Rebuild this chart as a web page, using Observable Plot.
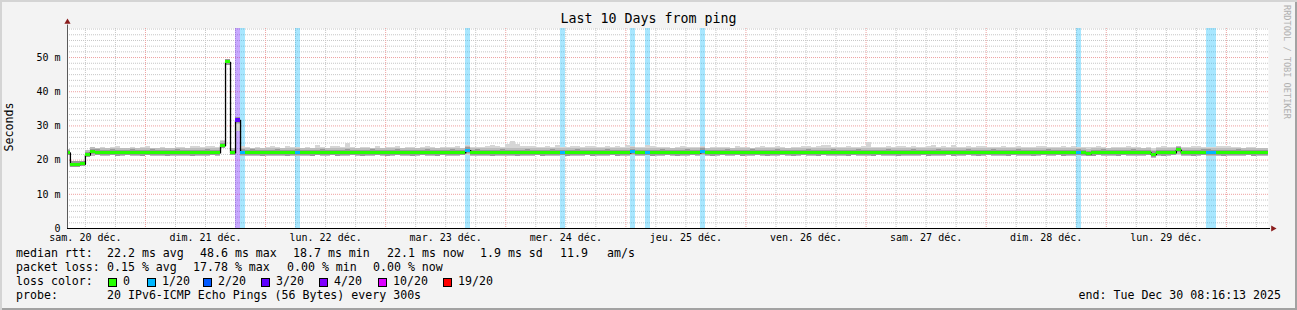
<!DOCTYPE html>
<html><head><meta charset="utf-8">
<script src="https://cdn.jsdelivr.net/npm/d3@7"></script>
<script src="https://cdn.jsdelivr.net/npm/@observablehq/plot@0.6"></script>
<style>
html,body{margin:0;padding:0;background:#f3f3f3;}
#wrap{position:relative;width:1297px;height:310px;background:#f3f3f3;box-shadow:inset 2px 2px 0 #d4d4d4, inset -2px -2px 0 #a2a2a2;overflow:hidden;font-family:"DejaVu Sans Mono",monospace;color:#000;}
#wrap svg{position:absolute;left:0;top:0;}
.t{position:absolute;white-space:pre;line-height:1;}
.box{position:absolute;width:7px;height:7px;border:1px solid #000;}
</style></head><body><div id="wrap"></div>
<script>
// ---- data (hours since sam. 20 déc. 00:00, hourly bins) ----
const firstHour = 8;
const xDomain = [8.42, 248.42];
const dayTicks = [12, 36, 60, 84, 108, 132, 156, 180, 204, 228];
const dayLabels = ["sam. 20 déc.", "dim. 21 déc.", "lun. 22 déc.", "mar. 23 déc.", "mer. 24 déc.",
                   "jeu. 25 déc.", "ven. 26 déc.", "sam. 27 déc.", "dim. 28 déc.", "lun. 29 déc."];
const yTicks = [0, 10, 20, 30, 40, 50];
const yTickLabels = ["0", "10 m", "20 m", "30 m", "40 m", "50 m"];

// median rtt (ms), one value per hour starting at hour 8
const median = [
  22.1,18.7,18.7,18.8,21.5,22.3,22.2,22.1,22.1,22.2,22.0,22.1,
  22.1,22.2,22.1,22.0,22.1,22.2,22.1,22.1,22.0,22.1,22.2,22.1,
  22.1,22.0,22.1,22.1,22.2,22.1,22.1,24.2,48.6,22.1,31.6,22.2,
  22.1,22.2,22.1,22.0,22.1,22.1,22.2,22.1,22.0,22.1,22.2,22.1,
  22.1,22.0,22.1,22.2,22.1,22.1,22.0,22.1,22.2,22.1,22.1,22.0,
  22.1,22.2,22.1,22.1,22.0,22.1,22.2,22.1,22.1,22.0,22.1,22.1,
  22.2,22.1,22.0,22.1,22.1,22.2,22.1,22.1,22.8,22.1,22.2,22.1,
  22.1,22.0,22.1,22.2,22.1,22.1,22.0,22.1,22.2,22.1,22.1,22.0,
  22.1,22.2,22.1,22.1,22.0,22.1,22.2,22.1,22.1,22.0,22.1,22.1,
  22.2,22.1,22.0,22.1,22.1,22.3,22.1,22.1,22.1,22.0,22.1,22.2,
  22.1,22.1,22.0,22.1,22.2,22.1,22.1,22.5,22.1,22.0,22.1,22.1,
  22.2,22.1,22.1,22.0,22.1,22.2,22.1,22.1,22.0,22.1,22.2,22.1,
  22.1,22.0,22.1,22.1,22.2,22.1,22.0,22.1,22.1,22.2,22.1,22.1,
  22.0,22.1,22.2,22.1,22.1,22.0,22.1,22.1,22.2,22.1,22.0,22.1,
  22.1,22.2,22.1,22.1,22.0,22.1,22.2,22.1,22.1,22.0,22.1,22.1,
  22.2,22.1,22.0,22.1,22.1,22.2,22.1,22.1,22.0,22.1,22.2,22.1,
  22.1,22.0,22.1,22.1,22.2,22.1,22.1,22.0,22.1,22.1,22.2,22.1,
  21.8,22.0,22.1,22.2,22.1,22.1,22.0,22.1,22.1,22.2,22.1,22.1,
  22.1,21.6,22.1,22.0,22.1,22.1,22.9,22.1,22.1,22.0,22.1,22.2,
  22.2,22.1,22.1,22.0,22.1,22.1,22.2,22.1,22.1,22.0,22.1,22.1,
  22.1
];
// smoke: highest and lowest ping of each hour (ms)
const smokeHi = [
  23.0,19.6,19.5,19.7,22.8,23.6,23.4,23.8,23.5,23.6,23.9,23.4,
  23.5,23.8,23.4,23.6,23.9,23.5,23.4,23.7,23.5,23.4,23.8,23.6,
  23.5,23.9,24.0,23.6,23.9,24.1,23.7,25.7,49.4,23.5,32.6,23.9,
  23.6,23.4,23.8,23.5,23.7,24.0,23.6,23.5,23.9,23.6,23.8,23.5,
  23.7,23.4,24.3,23.6,23.5,23.9,24.0,23.6,24.9,23.7,23.5,23.8,
  23.6,23.4,23.9,23.5,23.7,23.6,24.0,23.5,23.8,23.6,23.4,23.7,
  23.9,23.6,23.5,23.8,23.6,23.7,23.9,23.5,24.4,23.6,23.8,23.7,
  23.9,24.2,24.1,23.8,24.6,25.4,24.6,24.1,23.9,24.0,23.7,23.8,
  23.9,23.6,24.2,23.8,23.7,24.0,24.1,23.8,23.9,24.0,23.7,23.8,
  23.9,23.7,24.0,23.8,24.3,24.1,23.8,23.7,24.3,23.9,23.6,23.8,
  23.7,23.5,23.8,23.9,23.6,23.7,23.6,23.9,23.5,23.6,23.7,23.8,
  23.6,23.5,24.0,23.8,23.6,23.5,23.7,23.9,23.6,23.8,24.0,23.7,
  23.5,23.6,23.8,23.9,24.0,23.7,23.9,24.3,24.2,23.8,23.7,23.6,
  24.0,23.7,23.6,23.9,25.2,23.7,23.6,23.8,24.0,23.7,24.1,23.9,
  23.8,24.0,23.7,23.6,23.9,24.2,23.8,24.1,23.7,24.4,23.6,23.8,
  24.0,23.7,23.9,24.1,23.6,23.8,23.7,24.0,23.8,23.6,23.9,23.7,
  23.8,23.6,23.9,24.1,23.7,23.8,23.6,24.0,23.7,23.9,23.6,23.8,
  23.7,23.6,23.9,23.8,23.5,23.7,23.6,23.8,23.9,23.6,23.7,23.5,
  23.6,23.4,23.8,23.9,23.7,23.8,24.0,23.6,23.7,23.9,24.0,23.6,
  23.8,23.7,23.9,24.1,23.9,23.6,23.8,23.5,23.7,23.6,23.5,23.5,
  23.5
];
const smokeLo = [
  21.3,17.9,17.8,18.0,20.9,21.2,21.3,21.0,21.2,21.3,21.1,21.2,
  21.3,21.1,21.2,21.0,21.3,21.2,21.1,21.2,21.3,21.0,21.2,21.1,
  21.2,21.3,21.1,21.2,21.0,21.3,21.2,23.6,48.0,21.3,28.5,21.2,
  21.1,21.2,21.0,21.3,21.2,21.1,21.0,21.2,21.3,21.1,21.2,21.0,
  21.2,21.1,21.3,21.0,21.2,21.3,21.1,21.2,21.0,21.3,21.1,21.2,
  21.0,21.2,21.3,21.1,21.2,21.0,21.3,21.2,21.1,21.0,21.2,21.3,
  21.1,21.2,21.0,21.3,21.1,21.2,21.0,21.3,21.4,21.2,21.1,21.0,
  21.2,21.3,21.1,21.0,21.2,21.1,21.3,21.2,21.0,21.1,21.3,21.2,
  21.1,21.0,21.2,21.3,21.1,21.2,21.0,21.1,21.3,21.2,21.0,21.1,
  21.2,21.3,21.1,21.0,21.2,21.4,21.1,21.2,21.3,21.0,21.2,21.1,
  21.3,21.2,21.1,21.0,21.2,21.3,21.1,21.3,21.2,21.0,21.1,21.3,
  21.2,21.1,21.3,21.0,21.2,21.1,21.3,21.2,21.0,21.1,21.2,21.3,
  21.1,21.0,21.2,21.3,21.1,21.2,21.0,21.3,21.1,21.2,21.0,21.1,
  21.2,21.3,21.1,21.0,21.2,21.1,21.3,21.2,21.0,21.1,21.3,21.2,
  21.0,21.2,21.1,21.3,21.2,21.0,21.1,21.2,21.3,21.1,21.0,21.2,
  21.3,21.1,21.2,21.0,21.3,21.2,21.1,21.0,21.2,21.3,21.1,21.2,
  21.1,21.2,21.0,21.3,21.1,21.2,21.3,21.0,21.2,21.1,21.3,21.2,
  21.0,21.2,21.3,21.1,21.2,21.0,21.1,21.3,21.2,21.1,21.0,21.2,
  21.3,20.6,21.2,21.0,21.1,21.3,21.4,21.2,21.1,21.0,21.2,21.3,
  21.1,21.2,21.0,21.3,21.2,21.1,21.0,21.2,21.3,21.1,21.2,21.1,
  21.2
];
// hours with packet loss and number of lost pings (of 20)
const lossHours = [42, 43, 54, 88, 107, 121, 124, 135, 210, 236, 237];
const lossCount = [3, 1, 1, 1, 1, 1, 1, 1, 1, 1, 1];
// loss colour legend
const lossLevels = [0, 1, 2, 3, 4, 10, 19];
const lossLabels = ["0", "1/20", "2/20", "3/20", "4/20", "10/20", "19/20"];
const lossColors = ["#26ff00", "#00b8ff", "#0059ff", "#5e00ff", "#7e00ff", "#dd00ff", "#ff0000"];

// ---- build ----
const colorOf = c => { let k = 0; lossLevels.forEach((l, i) => { if (c >= l) k = i; }); return lossColors[k]; };
const lossBy = new Map(lossHours.map((h, i) => [h, lossCount[i]]));
const rows = median.map((m, i) => {
  const h = firstHour + i;
  return {h, h2: h + 1, med: m, hi: smokeHi[i], lo: smokeLo[i], color: colorOf(lossBy.get(h) || 0)};
});
const lossRows = lossHours.map((h, i) => ({h, h2: h + 1, color: colorOf(lossCount[i])}));

const yTop = 58.5;
const minorY = d3.range(1, 36).filter(k => k % 6 !== 0).map(k => k * 10 / 6);
const majorY = yTicks.filter(v => v > 0);
const majorX = d3.range(24, 248, 24);
const minorX = d3.range(12, 248, 6).filter(h => h % 24 !== 0);
const gridGray = "#c6c6c6", gridRed = "#eea0a0";

const chart = Plot.plot({
  width: 1297, height: 245,
  marginLeft: 67, marginRight: 29, marginTop: 28, marginBottom: 17,
  style: {background: "transparent", fontFamily: "'DejaVu Sans Mono', monospace", fontSize: "10px", color: "#000", overflow: "visible"},
  x: {domain: xDomain, ticks: dayTicks, tickFormat: d => dayLabels[dayTicks.indexOf(d)], tickSize: 0, tickPadding: 5, label: null},
  y: {domain: [0, yTop], ticks: yTicks, tickFormat: d => yTickLabels[yTicks.indexOf(d)], tickSize: 0, tickPadding: 7, label: null},
  color: {type: "identity"},
  marks: [
    Plot.frame({fill: "white"}),
    Plot.ruleY(minorY, {stroke: gridGray, strokeDasharray: "1,1"}),
    Plot.ruleX(minorX, {stroke: gridGray, strokeDasharray: "1,1"}),
    Plot.ruleY(majorY, {stroke: gridRed, strokeDasharray: "1,1"}),
    Plot.ruleX(majorX, {stroke: gridRed, strokeDasharray: "1,1"}),
    Plot.rect(lossRows, {x1: "h", x2: "h2", y1: 0, y2: yTop, fill: d => d.color, fillOpacity: 0.34, clip: true, shapeRendering: "crispEdges"}),
    Plot.rect(rows, {x1: "h", x2: "h2", y1: "lo", y2: "hi", fill: "#d6d6d6", clip: true, shapeRendering: "crispEdges"}),
    Plot.rect(rows, {x1: "h", x2: "h2", y1: d => Math.max(d.lo, d.med - 1.2), y2: d => Math.min(d.hi, d.med + 1.3), fill: "#bdbdbd", clip: true, shapeRendering: "crispEdges"}),
    Plot.rect(rows, {x1: "h", x2: "h2", y1: d => d.med - 0.8, y2: d => d.med + 0.8, fill: "#999999", clip: true, shapeRendering: "crispEdges"}),
    Plot.line(rows, {x: "h", y: "med", curve: "step-after", stroke: "#000", strokeWidth: 1.3, clip: true}),
    Plot.rect(rows, {x1: "h", x2: "h2", y1: d => d.med - 0.45, y2: d => d.med + 0.45, fill: d => d.color, clip: true, shapeRendering: "crispEdges"}),
    Plot.ruleX([xDomain[0]], {y1: 0, y2: yTop + 1, stroke: "#5a5a5a"}),
    Plot.ruleY([0], {x1: xDomain[0], x2: xDomain[1] + 0.4, stroke: "#000"}),
    Plot.dot([0], {x: xDomain[0], y: yTop + 1.9, symbol: "triangle", r: 2.3, fill: "#8a1c1c"}),
    Plot.dot([0], {x: xDomain[1] + 0.9, y: 0, symbol: "triangle", rotate: 90, r: 2.3, fill: "#8a1c1c"})
  ]
});

const wrap = document.getElementById("wrap");
wrap.appendChild(chart);

function txt(s, x, yc, size, extra) {
  const d = document.createElement("div");
  d.className = "t";
  d.textContent = s;
  d.style.fontSize = size + "px";
  d.style.left = x + "px";
  d.style.top = (yc - size * 0.53) + "px";
  if (extra) Object.assign(d.style, extra);
  wrap.appendChild(d);
  return d;
}
// title
txt("Last 10 Days from ping", 0, 19, 13.3, {width: "1297px", textAlign: "center"});
// y label
txt("Seconds", 10, 127, 11.6, {left: "10px", top: "127px", transform: "translate(-50%,-50%) rotate(-90deg)"});
// watermark
txt("RRDTOOL / TOBI OETIKER", 1282, 0, 8.6, {top: "5px", writingMode: "vertical-rl", color: "#b0b0b0"});

// legend
const L = 11.6;
const row1 = ["median rtt:", "22.2 ms avg", "48.6 ms max", "18.7 ms min", "22.1 ms now", "1.9 ms sd", "11.9", "am/s"];
[16, 107, 200, 293, 387, 480, 560, 607].forEach((x, i) => txt(row1[i], x, 254, L));
const row2 = ["packet loss:", "0.15 % avg", "17.78 % max", "0.00 % min", "0.00 % now"];
[16, 107, 193, 287, 373].forEach((x, i) => txt(row2[i], x, 268, L));
txt("loss color:", 16, 282, L);
[108, 147, 203, 261, 319, 378, 443].forEach((x, i) => {
  const b = document.createElement("div");
  b.className = "box";
  b.style.left = x + "px";
  b.style.top = (282 - 4.5) + "px";
  b.style.background = lossColors[i];
  wrap.appendChild(b);
  txt(lossLabels[i], x + 15, 282, L);
});
txt("probe:", 16, 296, L);
txt("20 IPv6-ICMP Echo Pings (56 Bytes) every 300s", 107, 296, L);
txt("end: Tue Dec 30 08:16:13 2025", 0, 296, L, {left: "auto", right: "16px"});
</script></body></html>
